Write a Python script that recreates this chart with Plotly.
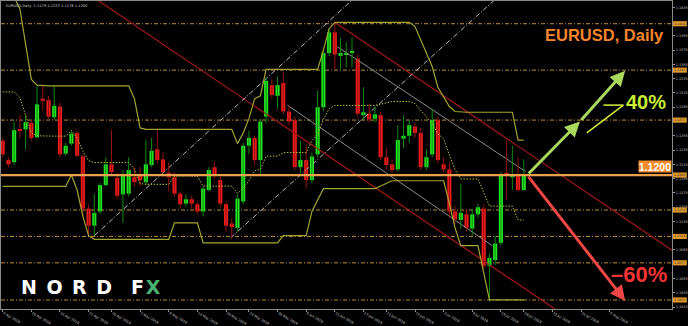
import numpy as np
import plotly.graph_objects as go

# ---------------- data ----------------
tick_bars = [0, 5, 10, 15, 19, 24, 29, 34, 39, 43, 48, 53, 58, 63, 67, 72, 77, 82, 87, 91, 96, 101, 106]
tick_labels = ["4 Apr 2019", "10 Apr 2019", "16 Apr 2019", "22 Apr 2019", "26 Apr 2019", "2 May 2019",
               "8 May 2019", "14 May 2019", "20 May 2019", "24 May 2019", "30 May 2019", "5 Jun 2019",
               "11 Jun 2019", "17 Jun 2019", "21 Jun 2019", "27 Jun 2019", "3 Jul 2019", "9 Jul 2019",
               "15 Jul 2019", "19 Jul 2019", "25 Jul 2019", "31 Jul 2019", "6 Aug 2019"]

price_ticks = [1.1015, 1.1035, 1.1055, 1.1095, 1.1135, 1.1155, 1.1175, 1.1195, 1.1215,
               1.1235, 1.1255, 1.1295, 1.1315, 1.1335, 1.1355, 1.1375, 1.1395, 1.1435]

opens = [1.1248, 1.1221, 1.1218, 1.1264, 1.1264, 1.1273, 1.1253, 1.1307, 1.1305, 1.1281,
         1.1296, 1.1230, 1.1244, 1.1259, 1.1226, 1.1153, 1.1129, 1.1149, 1.1186, 1.1215,
         1.1196, 1.1173, 1.1174, 1.1197, 1.1200, 1.1190, 1.1214, 1.1236, 1.1222, 1.1203,
         1.1197, 1.1174, 1.1160, 1.1166, 1.1159, 1.1149, 1.1179, 1.1211, 1.1193, 1.1159,
         1.1132, 1.1126, 1.1163, 1.1241, 1.1252, 1.1221, 1.1282, 1.1326, 1.1311, 1.1329,
         1.1289, 1.1277, 1.1211, 1.1221, 1.1193, 1.1229, 1.1295, 1.1371, 1.1400, 1.1367,
         1.1369, 1.1371, 1.1363, 1.1284, 1.1286, 1.1279, 1.1284, 1.1225, 1.1215, 1.1208,
         1.1251, 1.1255, 1.1268, 1.1259, 1.1211, 1.1229, 1.1277, 1.1215, 1.1208, 1.1149,
         1.1137, 1.1145, 1.1125, 1.1145, 1.1153, 1.1073, 1.1081, 1.1105, 1.1203, 1.1197,
         1.1200, 1.1179]
highs = [1.1252, 1.1225, 1.1275, 1.1284, 1.1284, 1.1277, 1.1325, 1.1325, 1.1311, 1.1325,
         1.1301, 1.1245, 1.1262, 1.1262, 1.1229, 1.1159, 1.1173, 1.1189, 1.1225, 1.1263,
         1.1203, 1.1207, 1.1225, 1.1211, 1.1211, 1.1249, 1.1252, 1.1263, 1.1232, 1.1218,
         1.1204, 1.1177, 1.1173, 1.1171, 1.1163, 1.1184, 1.1211, 1.1218, 1.1197, 1.1163,
         1.1140, 1.1173, 1.1245, 1.1262, 1.1255, 1.1279, 1.1337, 1.1334, 1.1338, 1.1344,
         1.1296, 1.1282, 1.1248, 1.1242, 1.1232, 1.1318, 1.1375, 1.1405, 1.1414, 1.1392,
         1.1386, 1.1393, 1.1369, 1.1323, 1.1300, 1.1296, 1.1288, 1.1238, 1.1222, 1.1270,
         1.1284, 1.1277, 1.1273, 1.1266, 1.1236, 1.1293, 1.1282, 1.1225, 1.1218, 1.1156,
         1.1188, 1.1151, 1.1152, 1.1160, 1.1159, 1.1090, 1.1115, 1.1204, 1.1249, 1.1241,
         1.1225, 1.1222]
lows = [1.1225, 1.1211, 1.1214, 1.1252, 1.1236, 1.1248, 1.1251, 1.1290, 1.1279, 1.1277,
        1.1225, 1.1227, 1.1241, 1.1225, 1.1142, 1.1115, 1.1115, 1.1145, 1.1184, 1.1200,
        1.1167, 1.1133, 1.1170, 1.1184, 1.1184, 1.1186, 1.1211, 1.1216, 1.1197, 1.1177,
        1.1170, 1.1153, 1.1156, 1.1153, 1.1145, 1.1142, 1.1177, 1.1195, 1.1156, 1.1121,
        1.1111, 1.1121, 1.1159, 1.1229, 1.1214, 1.1201, 1.1273, 1.1307, 1.1293, 1.1285,
        1.1270, 1.1207, 1.1203, 1.1181, 1.1189, 1.1225, 1.1290, 1.1367, 1.1348, 1.1348,
        1.1351, 1.1351, 1.1282, 1.1277, 1.1273, 1.1274, 1.1221, 1.1208, 1.1203, 1.1205,
        1.1238, 1.1245, 1.1252, 1.1207, 1.1207, 1.1225, 1.1216, 1.1204, 1.1142, 1.1132,
        1.1125, 1.1121, 1.1115, 1.1140, 1.1068, 1.1023, 1.1074, 1.1101, 1.1166, 1.1179,
        1.1177, 1.1178]
closes = [1.1229, 1.1215, 1.1263, 1.1262, 1.1274, 1.1252, 1.1299, 1.1304, 1.1282, 1.1297,
          1.1229, 1.1241, 1.1258, 1.1227, 1.1153, 1.1129, 1.1147, 1.1186, 1.1215, 1.1204,
          1.1171, 1.1200, 1.1207, 1.1190, 1.1193, 1.1215, 1.1234, 1.1221, 1.1204, 1.1197,
          1.1174, 1.1159, 1.1166, 1.1160, 1.1149, 1.1181, 1.1207, 1.1200, 1.1160, 1.1129,
          1.1127, 1.1167, 1.1241, 1.1252, 1.1221, 1.1275, 1.1332, 1.1312, 1.1326, 1.1289,
          1.1275, 1.1211, 1.1221, 1.1193, 1.1226, 1.1295, 1.1371, 1.1400, 1.1369, 1.1371,
          1.1371, 1.1373, 1.1286, 1.1288, 1.1278, 1.1285, 1.1225, 1.1214, 1.1207, 1.1249,
          1.1255, 1.1270, 1.1259, 1.1211, 1.1225, 1.1277, 1.1221, 1.1208, 1.1149, 1.1138,
          1.1147, 1.1126, 1.1145, 1.1155, 1.1073, 1.1084, 1.1104, 1.1201, 1.1200, 1.1201,
          1.1179, 1.1200]

# price channel (upper / lower envelope), read as vertices (bar index, price)
upper_bars = [0, 2, 3, 4, 5, 6, 7, 22, 23, 24, 25, 40, 41, 42, 43, 44, 45, 46, 55, 56, 57, 58,
              71, 72, 73, 75, 76, 78, 79, 80, 89, 90, 91]
upper_vals = [1.1449, 1.1449, 1.1433, 1.1382, 1.1334, 1.1326, 1.1325, 1.1325, 1.1307, 1.1266,
              1.1264, 1.1264, 1.1244, 1.1259, 1.1279, 1.1307, 1.1311, 1.1348, 1.1348, 1.1375,
              1.1405, 1.1414, 1.1414, 1.1408, 1.1389, 1.1352, 1.1323, 1.1296, 1.1289, 1.1288,
              1.1288, 1.1249, 1.1249]
lower_bars = [0, 11, 12, 13, 14, 15, 16, 29, 30, 34, 35, 48, 49, 53, 54, 56, 65, 68, 77, 78, 79,
              80, 83, 85, 91]
lower_vals = [1.1184, 1.1184, 1.1200, 1.1179, 1.1142, 1.1115, 1.1110, 1.1110, 1.1133, 1.1133,
              1.1105, 1.1105, 1.1115, 1.1115, 1.1149, 1.1181, 1.1181, 1.1192, 1.1192, 1.1160,
              1.1126, 1.1101, 1.1101, 1.1025, 1.1025]

level_prices = [1.1412, 1.1347, 1.1277, 1.1151, 1.1114, 1.1077, 1.1025]
pivot_price = 1.1200

# trend lines (bar index, price)
red_a_bars, red_a_prices = [14, 100], [1.1459, 1.0993]
red_b_bars, red_b_prices = [58, 117], [1.1414, 1.1094]
gray_a_bars, gray_a_prices = [49.7, 85.5], [1.1298, 1.1101]
gray_b_bars, gray_b_prices = [58.4, 91.3], [1.1380, 1.1205]
dash_a_bars, dash_a_prices = [16, 61], [1.1115, 1.1445]
dash_b_bars, dash_b_prices = [39.8, 86], [1.1112, 1.1446]

# forecast scenarios
up_bars, up_prices = [91.6, 100.8, 108.7], [1.1200, 1.1275, 1.1346]
down_bars, down_prices = [91.6, 108.7], [1.1200, 1.1024]

# ---------------- figure ----------------
o, h, l, c = map(np.array, (opens, highs, lows, closes))
idx = np.arange(len(o))
bull = c >= o

BULL_BODY, BULL_WICK = "#22e622", "#0e8a0e"
BEAR_BODY, BEAR_WICK = "#f01c1c", "#961212"
OLIVE = "#a3a332"
LEVEL = "#c08c30"

fig = go.Figure()

def line_trace(xs, ys, color, width=1, dash=None):
    fig.add_trace(go.Scatter(x=xs, y=ys, mode="lines", hoverinfo="skip",
                             line=dict(color=color, width=width, dash=dash)))

line_trace(red_a_bars, red_a_prices, "#a31818", 1.2)
line_trace(red_b_bars, red_b_prices, "#a31818", 1.2)
line_trace(gray_a_bars, gray_a_prices, "#8c8c8c", 1)
line_trace(gray_b_bars, gray_b_prices, "#8c8c8c", 1)
line_trace(dash_a_bars, dash_a_prices, "#bdbdbd", 1, "5px,2px,1px,2px")
line_trace(dash_b_bars, dash_b_prices, "#bdbdbd", 1, "5px,2px,1px,2px")

for mask, wc in ((bull, BULL_WICK), (~bull, BEAR_WICK)):
    xs, ys = [], []
    for i in idx[mask]:
        xs += [i, i, None]
        ys += [l[i], h[i], None]
    line_trace(xs, ys, wc, 1)

for mask, bc in ((bull, BULL_BODY), (~bull, BEAR_BODY)):
    base = np.minimum(o, c)[mask]
    height = np.maximum(np.abs(c - o)[mask], 0.00008)
    fig.add_trace(go.Bar(x=idx[mask], y=height, base=base, width=0.72, hoverinfo="skip",
                         marker=dict(color=bc, line=dict(width=0))))

xs = np.arange(len(o))
up_line = np.interp(xs, upper_bars, upper_vals)
lo_line = np.interp(xs, lower_bars, lower_vals)
mid_line = (up_line + lo_line) / 2
line_trace(xs, up_line, OLIVE, 1.2)
line_trace(xs, lo_line, OLIVE, 1.2)
line_trace(xs, mid_line, "#b8b83c", 1, "1.5px,1.5px")

shapes = []
for p in level_prices:
    shapes.append(dict(type="line", xref="paper", x0=0, x1=1, yref="y", y0=p, y1=p, layer="below",
                       line=dict(color=LEVEL, width=1, dash="4px,2px,1px,2px")))
shapes.append(dict(type="line", xref="paper", x0=0, x1=1, yref="y", y0=pivot_price, y1=pivot_price,
                   layer="above", line=dict(color="#eba04c", width=2.2)))
annotations = []
for p in level_prices + [pivot_price]:
    shapes.append(dict(type="rect", xref="paper", x0=1.0015, x1=1.022, yref="y",
                       y0=p - 0.00036, y1=p + 0.00036, fillcolor="#e39a2c", line=dict(width=0)))
    annotations.append(dict(xref="paper", x=1.0118, yref="y", y=p, text=f"{p:.4f}", showarrow=False,
                            xanchor="center", yanchor="middle",
                            font=dict(family="DejaVu Sans", size=3.2, color="#202020")))

# 40% callout leader
shapes.append(dict(type="line", xref="x", yref="y", x0=102.0, y0=1.1259, x1=108.4, y1=1.1298,
                   line=dict(color="#d6ee3a", width=1.5)))
shapes.append(dict(type="line", xref="x", yref="y", x0=104.9, y0=1.1298, x1=108.4, y1=1.1298,
                   line=dict(color="#d6ee3a", width=1.5)))

GREEN_ARROW = "#a9d85c"
RED_ARROW = "#f04646"
for k in range(len(up_bars) - 1):
    annotations.append(dict(x=up_bars[k + 1], y=up_prices[k + 1], ax=up_bars[k], ay=up_prices[k],
                            xref="x", yref="y", axref="x", ayref="y", text="", showarrow=True,
                            arrowhead=2, arrowsize=1, arrowwidth=3, arrowcolor=GREEN_ARROW))
annotations.append(dict(x=down_bars[1], y=down_prices[1], ax=down_bars[0], ay=down_prices[0],
                        xref="x", yref="y", axref="x", ayref="y", text="", showarrow=True,
                        arrowhead=2, arrowsize=1, arrowwidth=3, arrowcolor=RED_ARROW))

annotations += [
    dict(xref="paper", yref="paper", x=604 / 672, y=1 - 35 / 315, xanchor="center", yanchor="middle",
         text="<b>EURUSD, Daily</b>",
         showarrow=False, font=dict(family="Liberation Sans", size=16.5, color="#f5852a")),
    dict(xref="paper", yref="paper", x=646 / 672, y=1 - 103.5 / 315, xanchor="center", yanchor="middle",
         text="<b>40%</b>",
         showarrow=False, font=dict(family="Liberation Sans", size=20, color="#c6ee34")),
    dict(xref="paper", yref="paper", x=639 / 672, y=1 - 279.5 / 315, xanchor="center", yanchor="middle",
         text="<b>\u201360%</b>",
         showarrow=False, font=dict(family="Liberation Sans", size=22, color="#f23434")),
    dict(xref="paper", yref="y", x=1, y=pivot_price, xanchor="right", yanchor="bottom", yshift=2,
         text="<b>1.1200</b>", showarrow=False, bgcolor="#f08c2c", width=32, height=11, borderpad=0,
         font=dict(family="Liberation Sans", size=10.5, color="white")),
    dict(xref="paper", yref="paper", x=18 / 672, y=1 - 292.5 / 315, xanchor="left", yanchor="middle",
         text="<b>N\u2002O\u2002R\u2002D\u2003F\u200a<span style='color:#4cb274'>X</span></b>",
         showarrow=False, font=dict(family="DejaVu Sans", size=19, color="white")),
    dict(xref="paper", yref="paper", x=0.004, y=0.997, xanchor="left", yanchor="top",
         text="EURUSD,Daily  1.1179 1.1222 1.1178 1.1200", showarrow=False,
         font=dict(family="DejaVu Sans", size=3.6, color="#d0d0d0")),
]

fig.update_layout(
    width=688, height=326, margin=dict(l=0, r=16, t=0, b=11),
    paper_bgcolor="black", plot_bgcolor="black", showlegend=False, barmode="overlay",
    shapes=shapes, annotations=annotations,
    xaxis=dict(range=[-0.296, 116.88], tickvals=tick_bars, ticktext=tick_labels, ticks="outside",
               ticklen=2, tickcolor="#9a9a9a", showgrid=False, zeroline=False, showline=True,
               linecolor="#8a8a8a", mirror=True, ticklabelposition="outside right",
               tickfont=dict(family="DejaVu Sans", size=3.4, color="#c8c8c8"), fixedrange=True),
    yaxis=dict(range=[1.101233, 1.144384], side="right", tickvals=price_ticks,
               ticktext=[f"{v:.4f}" for v in price_ticks], ticks="outside", ticklen=2,
               tickcolor="#9a9a9a", showgrid=False, zeroline=False, showline=True,
               linecolor="#8a8a8a", mirror=True,
               tickfont=dict(family="DejaVu Sans", size=3.4, color="#c8c8c8"), fixedrange=True),
)

fig.write_html("out.html", config={"displayModeBar": False})
